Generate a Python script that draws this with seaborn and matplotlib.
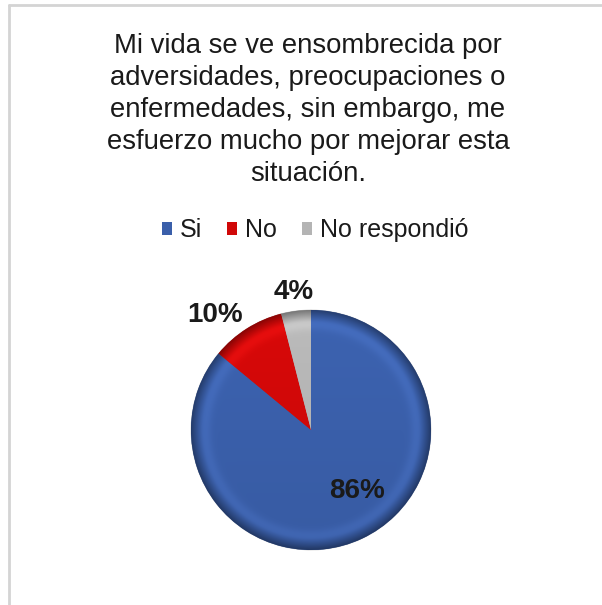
import numpy as np
import matplotlib
matplotlib.use("Agg")
import matplotlib.pyplot as plt
from matplotlib.lines import Line2D
from matplotlib.patches import Patch
import seaborn as sns

# Survey answers
categories = ["Si", "No", "No respondió"]
percentages = [86, 10, 4]
colors = ["#3A5FAA", "#D00808", "#B4B4B4"]
title_text = ("Mi vida se ve ensombrecida por\n"
              "adversidades, preocupaciones o\n"
              "enfermedades, sin embargo, me\n"
              "esfuerzo mucho por mejorar esta\n"
              "situación.")

sns.set_theme(style="white")
plt.rcParams["font.family"] = ["Liberation Sans", "DejaVu Sans"]

W, H = 602, 605
fig = plt.figure(figsize=(W / 100, H / 100), dpi=100)
fig.patch.set_facecolor("white")

# Pie axes: centre (311, 430) px, radius 125 px
cx, cy, R = 311, 430, 125
half = 1.2 * R
ax = fig.add_axes([(cx - half) / W, (H - cy - half) / H, 2 * half / W, 2 * half / H])
ax.set_xlim(-1.2, 1.2)
ax.set_ylim(-1.2, 1.2)
ax.set_aspect("equal")
ax.axis("off")

wedges, _ = ax.pie(percentages, colors=colors, startangle=90, counterclock=False,
                   radius=1.0, wedgeprops=dict(linewidth=0.6, edgecolor="#00000030"))

# Bevel-like shading: soft highlight inside the rim, gradual darkening at the edge
n = 500
xs = np.linspace(-1.0, 1.0, n)
X, Y = np.meshgrid(xs, xs[::-1])
r = np.hypot(X, Y)
band = np.exp(-((r - 0.88) / 0.05) ** 2)
rim = np.clip((r - 0.9) / 0.1, 0, 1) ** 1.3
for w, c in zip(wedges, colors):
    base = np.array(matplotlib.colors.to_rgb(c))
    shade = 1.0 + 0.05 * band - 0.38 * rim + 0.04 * Y
    img = np.clip(base[None, None, :] * shade[..., None] + 0.02 * band[..., None], 0, 1)
    im = ax.imshow(img, extent=(-1, 1, -1, 1), zorder=2, interpolation="bilinear")
    im.set_clip_path(w)

# Percentage labels placed around each wedge
label_pos = [(0.64, 12.0), (1.25, 7.5), (1.16, 0.0)]  # (radius, angle shift in deg)
for w, p, (lr, shift) in zip(wedges, percentages, label_pos):
    mid = np.deg2rad((w.theta1 + w.theta2) / 2 + shift)
    ax.text(lr * np.cos(mid), lr * np.sin(mid), f"{p}%", ha="center", va="center",
            fontsize=20, fontweight="bold", color="#1a1a1a", zorder=5, clip_on=False)

# Title
fig.text(308 / W, 1 - 33 / H, title_text, ha="center", va="top", fontsize=19.8,
         linespacing=1.3, color="#1a1a1a")

# Legend
handles = [Patch(facecolor=c, edgecolor="none") for c in colors]
leg = fig.legend(handles, categories, loc="center", bbox_to_anchor=(315 / W, 1 - 230 / H),
                 ncol=3, frameon=False, fontsize=18, handlelength=0.42, handleheight=0.42,
                 handletextpad=0.3, columnspacing=1.0)
for t in leg.get_texts():
    t.set_color("#1a1a1a")

# Frame lines along the top and left edges
fig.add_artist(Line2D([9 / W, 9 / W], [0, 1 - 5 / H], transform=fig.transFigure,
                      color="#d4d4d4", lw=2))
fig.add_artist(Line2D([9 / W, 1], [1 - 5 / H, 1 - 5 / H], transform=fig.transFigure,
                      color="#d4d4d4", lw=2))

fig.savefig("out.png", dpi=100, facecolor="white")
